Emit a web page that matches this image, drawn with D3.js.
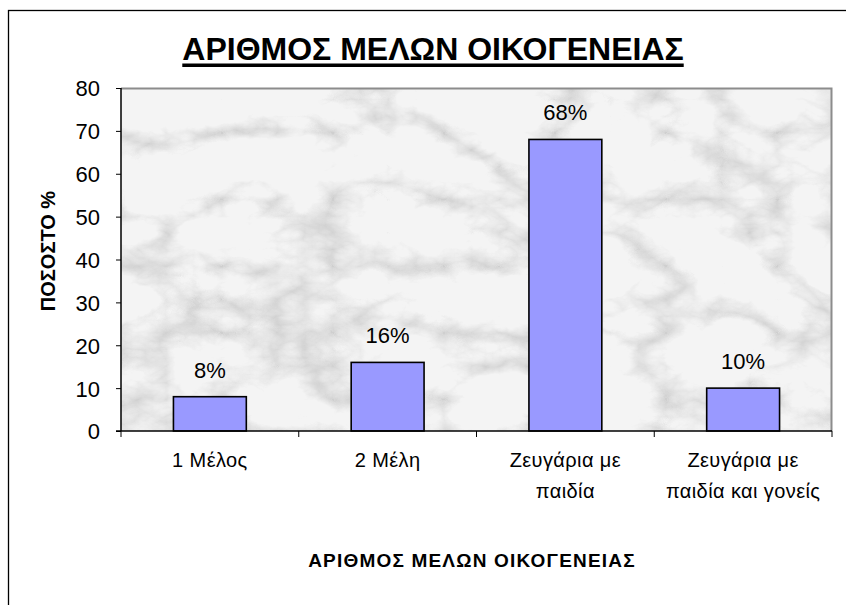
<!DOCTYPE html>
<html><head><meta charset="utf-8">
<script src="https://cdn.jsdelivr.net/npm/d3@7"></script>
<style>body{margin:0;background:#fff}svg{display:block;font-family:"Liberation Sans",Arial,sans-serif}</style>
</head><body>
<script>
const categories = [["1 Μέλος"], ["2 Μέλη"], ["Ζευγάρια με", "παιδία"], ["Ζευγάρια με", "παιδία και γονείς"]];
const values = [8, 16, 68, 10];
const valueLabels = ["8%", "16%", "68%", "10%"];
const yTicks = [0, 10, 20, 30, 40, 50, 60, 70, 80];
const title = "ΑΡΙΘΜΟΣ ΜΕΛΩΝ ΟΙΚΟΓΕΝΕΙΑΣ";
const yTitle = "ΠΟΣΟΣΤΟ %";
const xTitle = "ΑΡΙΘΜΟΣ ΜΕΛΩΝ ΟΙΚΟΓΕΝΕΙΑΣ";

const W = 846, H = 605;
const m = {left: 121, top: 88, right: 832, bottom: 431};
const svg = d3.select("body").append("svg").attr("width", W).attr("height", H);

// marble texture filter
const defs = svg.append("defs");
const f = defs.append("filter").attr("id", "marble").attr("x", 0).attr("y", 0).attr("width", 1).attr("height", 1);
f.append("feTurbulence").attr("type", "turbulence").attr("baseFrequency", "0.009 0.015").attr("numOctaves", 6).attr("seed", 5).attr("result", "t");
f.append("feColorMatrix").attr("in", "t").attr("type", "matrix")
  .attr("values", "0 0 0 0 0.45  0 0 0 0 0.45  0 0 0 0 0.45  -1.7 0 0 0 0.62").attr("result", "m");
f.append("feGaussianBlur").attr("in", "m").attr("stdDeviation", 0.5).attr("result", "mb");
f.append("feComposite").attr("in", "mb").attr("in2", "SourceGraphic").attr("operator", "over");

// outer frame
svg.append("rect").attr("x", 8.5).attr("y", 10.5).attr("width", W + 10).attr("height", H + 10)
  .attr("fill", "#fff").attr("stroke", "#000").attr("stroke-width", 1.3);

const x = d3.scaleBand().domain(d3.range(categories.length)).range([m.left, m.right]);
const y = d3.scaleLinear().domain([0, 80]).range([m.bottom, m.top]);

// plot area background
const pa = svg.append("g");
pa.append("rect").attr("x", m.left).attr("y", m.top).attr("width", m.right - m.left).attr("height", m.bottom - m.top)
  .attr("fill", "#f4f4f4").attr("filter", "url(#marble)");
pa.append("path").attr("d", `M${m.left},${m.top + 0.5}H${m.right - 0.5}V${m.bottom}`)
  .attr("fill", "none").attr("stroke", "#8c8c8c").attr("stroke-width", 2);

// bars
const bw = x.bandwidth() * 0.41;
svg.append("g").selectAll("rect").data(values).join("rect")
  .attr("x", (d, i) => x(i) + (x.bandwidth() - bw) / 2)
  .attr("y", d => y(d))
  .attr("width", bw)
  .attr("height", d => y(0) - y(d))
  .attr("fill", "#9999ff").attr("stroke", "#000").attr("stroke-width", 1.6);

// value labels
svg.append("g").selectAll("text").data(values).join("text")
  .attr("x", (d, i) => x(i) + x.bandwidth() / 2)
  .attr("y", d => y(d) - 19)
  .attr("text-anchor", "middle").attr("font-size", 22).attr("fill", "#000")
  .text((d, i) => valueLabels[i]);

// y axis
const ya = svg.append("g").attr("transform", `translate(${m.left},0)`)
  .call(d3.axisLeft(y).tickValues(yTicks).tickSize(5).tickPadding(16));
ya.select(".domain").attr("stroke", "#000").attr("stroke-width", 1.5).attr("d", `M0,${m.top}V${m.bottom}`);
ya.selectAll(".tick line").attr("stroke", "#000");
ya.selectAll(".tick text").attr("font-size", 22).attr("font-family", "Liberation Sans, Arial, sans-serif").attr("fill", "#000").attr("dy", "0.36em");

// x axis
const xa = svg.append("g").attr("transform", `translate(0,${m.bottom})`);
xa.append("line").attr("x1", m.left - 5).attr("x2", m.right).attr("stroke", "#000").attr("stroke-width", 1.5);
const bounds = d3.range(categories.length + 1).map(i => i < categories.length ? x(i) : x(i - 1) + x.bandwidth());
xa.selectAll("line.t").data(bounds).join("line").attr("class", "t")
  .attr("x1", d => d).attr("x2", d => d).attr("y1", 0).attr("y2", 6).attr("stroke", "#000");
const cl = xa.selectAll("text.c").data(categories).join("text").attr("class", "c")
  .attr("text-anchor", "middle").attr("font-size", 20).attr("letter-spacing", 0.4).attr("fill", "#000");
cl.each(function(lines, i) {
  d3.select(this).selectAll("tspan").data(lines).join("tspan")
    .attr("x", x(i) + x.bandwidth() / 2).attr("y", (d, j) => 36 + j * 31).text(d => d);
});

// titles
const t = svg.append("text").attr("x", 433).attr("y", 60).attr("text-anchor", "middle")
  .attr("font-size", 32).attr("font-weight", "bold").text(title);
const bb = t.node().getBBox();
svg.append("rect").attr("x", bb.x).attr("y", 63.5).attr("width", bb.width).attr("height", 3.5).attr("fill", "#000");

svg.append("text").attr("transform", `translate(55,251) rotate(-90)`)
  .attr("text-anchor", "middle").attr("font-size", 20).attr("font-weight", "bold").text(yTitle);

svg.append("text").attr("x", 472).attr("y", 567).attr("text-anchor", "middle")
  .attr("font-size", 19).attr("font-weight", "bold").attr("letter-spacing", 1.2).text(xTitle);
</script>
</body></html>
